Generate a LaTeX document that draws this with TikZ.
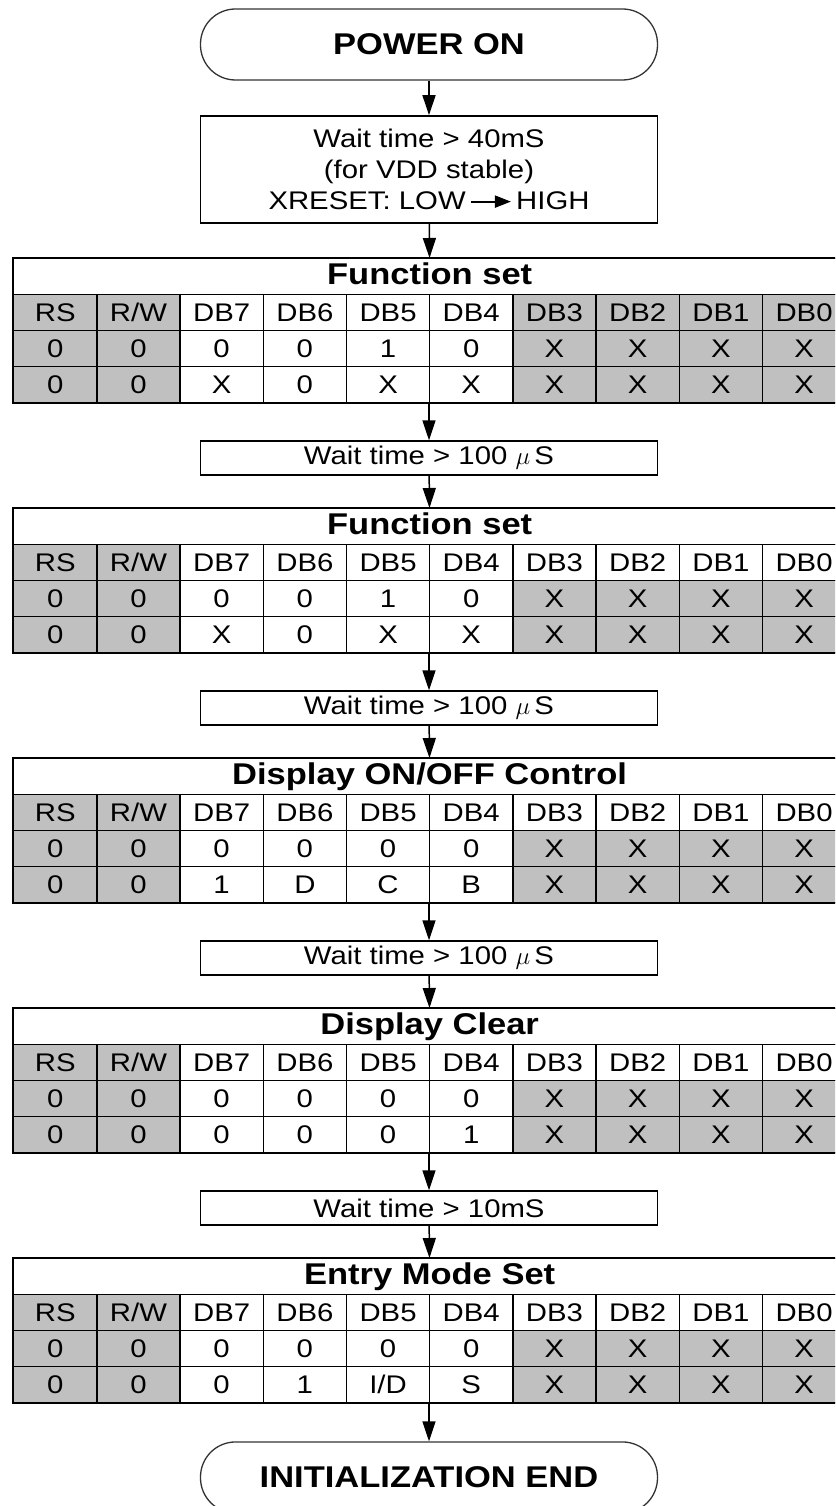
\documentclass[tikz,border=0pt]{standalone}
\usepackage{fontspec}
\setmainfont{Liberation Sans}[FakeStretch=1.15]
\usetikzlibrary{positioning,arrows.meta}
\definecolor{regfill}{RGB}{192,192,192}

\tikzset{
  cell/.style={draw=black, line width=1.3pt, anchor=north west,
    minimum width=83.2pt, minimum height=36pt, inner sep=0,
    text height=18pt, text depth=0pt,
    font=\fontsize{25.5}{28}\selectfont},
  titlecell/.style={cell, minimum width=832pt, text height=21.5pt, text depth=6pt,
    font=\fontsize{30}{32}\selectfont\bfseries},
  outline/.style={draw=black, line width=2pt},
  waitbox/.style={draw=black, line width=1.6pt, minimum width=457pt,
    minimum height=34pt, inner sep=0, align=center,
    font=\fontsize{25.5}{31}\selectfont},
  term/.style={draw=black!80, line width=1.3pt, rounded corners=35pt,
    minimum width=457pt, minimum height=71pt, inner sep=0,
    font=\fontsize{30}{32}\selectfont\bfseries},
  flow/.style={line width=1.5pt, -{Triangle[length=20pt,width=13pt]}}
}

% #1 name, #2 top, #3 title, #4 fill of DB3..DB0 head, #5/#6 DB7..DB4 of both rows
\newcommand{\regtable}[6]{%
  \node[titlecell] (#1-title) at (13,#2) {#3};
  \foreach \lbl [count=\i from 0] in {RS,R/W,DB7,DB6,DB5,DB4,DB3,DB2,DB1,DB0} {
    \ifnum\i<2 \def\cf{regfill}\else\ifnum\i<6 \def\cf{white}\else\def\cf{#4}\fi\fi
    \node[cell, fill=\cf] (#1-h\i) at (13+83.2*\i, #2+36) {\lbl};
  }
  \foreach \val [count=\i from 0] in {0,0,#5,X,X,X,X} {
    \ifnum\i<2 \def\cf{regfill}\else\ifnum\i<6 \def\cf{white}\else\def\cf{regfill}\fi\fi
    \node[cell, fill=\cf] (#1-a\i) at (13+83.2*\i, #2+72) {\val};
  }
  \foreach \val [count=\i from 0] in {0,0,#6,X,X,X,X} {
    \ifnum\i<2 \def\cf{regfill}\else\ifnum\i<6 \def\cf{white}\else\def\cf{regfill}\fi\fi
    \node[cell, fill=\cf] (#1-b\i) at (13+83.2*\i, #2+108) {\val};
  }
  \draw[outline] (#1-title.north west) rectangle (#1-b9.south east);
  \coordinate (#1-bot) at (#1-b5.south west);
}

\begin{document}
\begin{tikzpicture}[x=1pt, y=-1pt]
  \useasboundingbox (0,0) rectangle (835,1506);
  \clip (0,0) rectangle (835,1506);

  \node[term] (poweron) at (429,44.5) {POWER ON};
  \node[waitbox, minimum height=107pt] (vdd) at (429,169.5)
    {Wait time > 40mS\\(for VDD stable)\\XRESET: LOW\,\tikz[baseline=-8pt]\draw[line width=2pt,
      -{Triangle[length=16pt,width=12pt]}] (0pt,0pt) -- (40pt,0pt);\,HIGH};

  \regtable{fs1}{258}{Function set}{regfill}{0,0,1,0}{X,0,X,X}
  \regtable{fs2}{508}{Function set}{white}{0,0,1,0}{X,0,X,X}
  \regtable{disp}{758}{Display ON/OFF Control}{white}{0,0,0,0}{1,D,C,B}
  \regtable{clr}{1008}{Display Clear}{white}{0,0,0,0}{0,0,0,1}
  \regtable{entry}{1258}{Entry Mode Set}{white}{0,0,0,0}{0,1,I/D,S}

  \node[waitbox, below=37pt of fs1-bot] (wait1) {Wait time > 100 $\mu$\,S};
  \node[waitbox, below=37pt of fs2-bot] (wait2) {Wait time > 100 $\mu$\,S};
  \node[waitbox, below=37pt of disp-bot] (wait3) {Wait time > 100 $\mu$\,S};
  \node[waitbox, below=37pt of clr-bot] (wait4) {Wait time > 10mS};
  \node[term, below=38pt of entry-bot] (initend) {INITIALIZATION END};

  \draw[flow] (poweron) -- (vdd);
  \draw[flow] (vdd) -- (fs1-title);
  \draw[flow] (fs1-bot) -- (wait1);
  \draw[flow] (wait1) -- (fs2-title);
  \draw[flow] (fs2-bot) -- (wait2);
  \draw[flow] (wait2) -- (disp-title);
  \draw[flow] (disp-bot) -- (wait3);
  \draw[flow] (wait3) -- (clr-title);
  \draw[flow] (clr-bot) -- (wait4);
  \draw[flow] (wait4) -- (entry-title);
  \draw[flow] (entry-bot) -- (initend);
\end{tikzpicture}
\end{document}
